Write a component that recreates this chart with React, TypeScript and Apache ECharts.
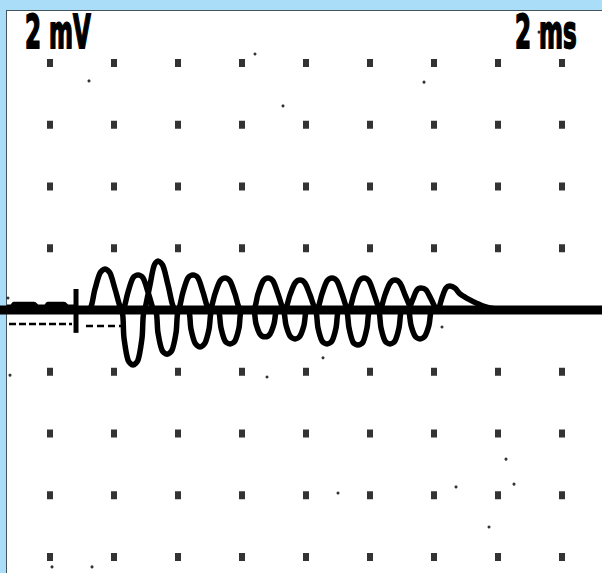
import React, { useEffect, useRef } from "react";
import * as echarts from "echarts";

// Graticule (ms, mV)
const DOT_TIMES_MS = [0, 2, 4, 6, 8, 10, 12, 14, 16];
const DOT_LEVELS_MV = [-8, -6, -4, -2, 0, 2, 4, 6, 8];
const X_RANGE_MS = [-1.5625, 17.25];
const Y_RANGE_MV = [-8.518, 10.04];

const VOLT_LABEL = "2 mV";
const TIME_LABEL = "2 ms";

// Thick resting trace
const baselineTrace = [
  [-1.6, 0],
  [17.3, 0],
];

// Pre-trigger noise on the left
const pretriggerTrace = [
  [-1.344, 0.1], [-1.188, 0.1], [-1.125, 0.19], [-0.5, 0.19], [-0.406, 0.1],
  [-0.125, 0.1], [-0.063, 0.19], [0.438, 0.19], [0.531, 0.1], [0.813, 0.1],
];

// Dashed trace below the baseline
const dashTraceA = [[-1.281, -0.45], [0.688, -0.45]];
const dashTraceB = [[1.125, -0.52], [2.438, -0.52]];

// Trigger marker
const triggerMark = [[0.813, 0.68], [0.813, -0.74]];

// Positive half-waves
const upperTrace = [
  [0.938, 0.03],
  [1.219, 0.03], [1.406, 0.68], [1.563, 1.2], [1.719, 1.33], [1.875, 1.2], [2.031, 0.68], [2.25, 0.03],
  [2.281, 0.03], [2.438, 0.58], [2.594, 1.04], [2.75, 1.13], [2.906, 1.04], [3.063, 0.58], [3.219, 0.03],
  [2.969, 0.03], [3.125, 0.81], [3.25, 1.43], [3.375, 1.59], [3.531, 1.43], [3.688, 0.81], [3.906, 0.03],
  [4.0, 0.03], [4.156, 0.58], [4.313, 1.04], [4.469, 1.13], [4.625, 1.04], [4.781, 0.58], [4.969, 0.03],
  [5.0, 0.03], [5.156, 0.52], [5.313, 0.94], [5.469, 1.04], [5.625, 0.94], [5.781, 0.52], [5.969, 0.03],
  [6.344, 0.03], [6.5, 0.52], [6.656, 0.94], [6.813, 1.04], [6.969, 0.94], [7.125, 0.52], [7.313, 0.03],
  [7.344, 0.03], [7.5, 0.49], [7.656, 0.87], [7.813, 0.97], [7.969, 0.87], [8.125, 0.49], [8.313, 0.03],
  [8.344, 0.03], [8.5, 0.52], [8.656, 0.94], [8.813, 1.04], [8.969, 0.94], [9.125, 0.52], [9.313, 0.03],
  [9.344, 0.03], [9.5, 0.52], [9.656, 0.94], [9.813, 1.04], [9.969, 0.94], [10.125, 0.52], [10.313, 0.03],
  [10.313, 0.03], [10.469, 0.49], [10.625, 0.87], [10.781, 0.97], [10.938, 0.87], [11.094, 0.49], [11.281, 0.03],
  [11.219, 0.03], [11.344, 0.36], [11.469, 0.65], [11.594, 0.71], [11.75, 0.65], [11.906, 0.36], [12.094, 0.03],
  [12.125, 0.03], [12.25, 0.4], [12.375, 0.71], [12.5, 0.78], [12.656, 0.71], [12.813, 0.52], [13.063, 0.36],
  [13.313, 0.23], [13.625, 0.1], [13.938, 0.03],
];

// Negative half-waves
const lowerTrace = [
  [1.875, -0.03],
  [2.219, -0.03], [2.313, -0.91], [2.438, -1.62], [2.594, -1.78], [2.75, -1.62], [2.875, -0.91], [2.969, -0.03],
  [3.281, -0.03], [3.375, -0.74], [3.5, -1.3], [3.656, -1.43], [3.813, -1.3], [3.938, -0.74], [4.031, -0.03],
  [4.313, -0.03], [4.406, -0.62], [4.531, -1.07], [4.688, -1.2], [4.844, -1.07], [4.969, -0.62], [5.063, -0.03],
  [5.25, -0.03], [5.344, -0.58], [5.469, -1.0], [5.625, -1.1], [5.781, -1.0], [5.906, -0.58], [6.0, -0.03],
  [6.344, -0.03], [6.438, -0.45], [6.563, -0.78], [6.719, -0.87], [6.875, -0.78], [7.0, -0.45], [7.094, -0.03],
  [7.281, -0.03], [7.375, -0.49], [7.5, -0.84], [7.656, -0.94], [7.813, -0.84], [7.938, -0.49], [8.031, -0.03],
  [8.281, -0.03], [8.375, -0.58], [8.5, -1.0], [8.656, -1.1], [8.813, -1.0], [8.938, -0.58], [9.031, -0.03],
  [9.25, -0.03], [9.344, -0.58], [9.469, -1.04], [9.625, -1.13], [9.781, -1.04], [9.906, -0.58], [10.0, -0.03],
  [10.25, -0.03], [10.344, -0.58], [10.469, -1.0], [10.625, -1.1], [10.781, -1.0], [10.906, -0.58], [11.0, -0.03],
  [11.188, -0.03], [11.281, -0.49], [11.406, -0.84], [11.563, -0.94], [11.719, -0.84], [11.844, -0.49], [11.938, -0.03],
  [12.188, -0.03],
];

// Stray specks of the screen
const specks = [
  [1.219, 7.42], [6.406, 8.29], [11.688, 7.38], [7.281, 6.61], [15.281, 9.0],
  [9.0, -5.93], [12.688, -5.73], [14.5, -5.64], [14.25, -4.83], [13.719, -7.03],
  [0.063, -8.32], [1.313, -8.32], [8.531, -1.55], [6.781, -2.17], [-1.25, -2.11],
  [12.25, -0.55], [-1.313, 0.39],
];

const INK = "#000000";

function traceSeries(data: number[][], width: number, extra: any = {}, smooth: number | boolean = 0.3) {
  return {
    type: "line",
    data,
    symbol: "none",
    silent: true,
    smooth,
    lineStyle: { color: INK, width, cap: "round", join: "round", ...extra },
    z: 3,
  };
}

export default function App() {
  const ref = useRef<HTMLDivElement>(null);

  useEffect(() => {
    if (!ref.current) return;
    const chart = echarts.init(ref.current, undefined, { renderer: "svg" });

    const dots: number[][] = [];
    DOT_TIMES_MS.forEach((t) => DOT_LEVELS_MV.forEach((v) => dots.push([t, v])));

    const fontFamily = "'DejaVu Sans', sans-serif";
    const labelStyle = {
      fill: INK,
      stroke: INK,
      lineWidth: 2,
      font: `bold 46px ${fontFamily}`,
      textAlign: "left",
      textVerticalAlign: "middle",
    };

    chart.setOption({
      animation: false,
      backgroundColor: "transparent",
      grid: { left: 0, right: 0, top: 0, bottom: 0, containLabel: false },
      xAxis: { type: "value", min: X_RANGE_MS[0], max: X_RANGE_MS[1], show: false },
      yAxis: { type: "value", min: Y_RANGE_MV[0], max: Y_RANGE_MV[1], show: false },
      graphic: [
        { type: "rect", z: 0, shape: { x: 6, y: 10, width: 596, height: 563 }, style: { fill: "#46545e" } },
        { type: "rect", z: 0, shape: { x: 7, y: 11, width: 595, height: 562 }, style: { fill: "#ffffff" } },
        { type: "text", z: 10, x: 25, y: 32, scaleX: 0.5, style: { ...labelStyle, text: VOLT_LABEL } },
        { type: "text", z: 10, x: 515, y: 32, scaleX: 0.5, style: { ...labelStyle, text: TIME_LABEL } },
      ],
      series: [
        traceSeries(baselineTrace, 9, {}, false),
        traceSeries(pretriggerTrace, 5, { cap: "butt" }, false),
        traceSeries(dashTraceA, 2.5, { type: [7, 3], cap: "butt" }, false),
        traceSeries(dashTraceB, 2.5, { type: [7, 4], cap: "butt" }, false),
        traceSeries(triggerMark, 5, { cap: "butt" }, false),
        traceSeries(upperTrace, 5.5),
        traceSeries(lowerTrace, 5.5),
        {
          type: "scatter",
          data: dots,
          symbol: "rect",
          symbolSize: [6, 8],
          itemStyle: { color: INK },
          silent: true,
          z: 4,
        },
        {
          type: "scatter",
          data: specks,
          symbol: "circle",
          symbolSize: 3,
          itemStyle: { color: INK },
          silent: true,
          z: 4,
        },
      ],
    });

    return () => chart.dispose();
  }, []);

  return (
    <div
      style={{ position: "absolute", left: 0, top: 0, width: 602, height: 573, background: "#a9ddf8" }}
    >
      <div ref={ref} style={{ width: 602, height: 573 }} />
    </div>
  );
}
